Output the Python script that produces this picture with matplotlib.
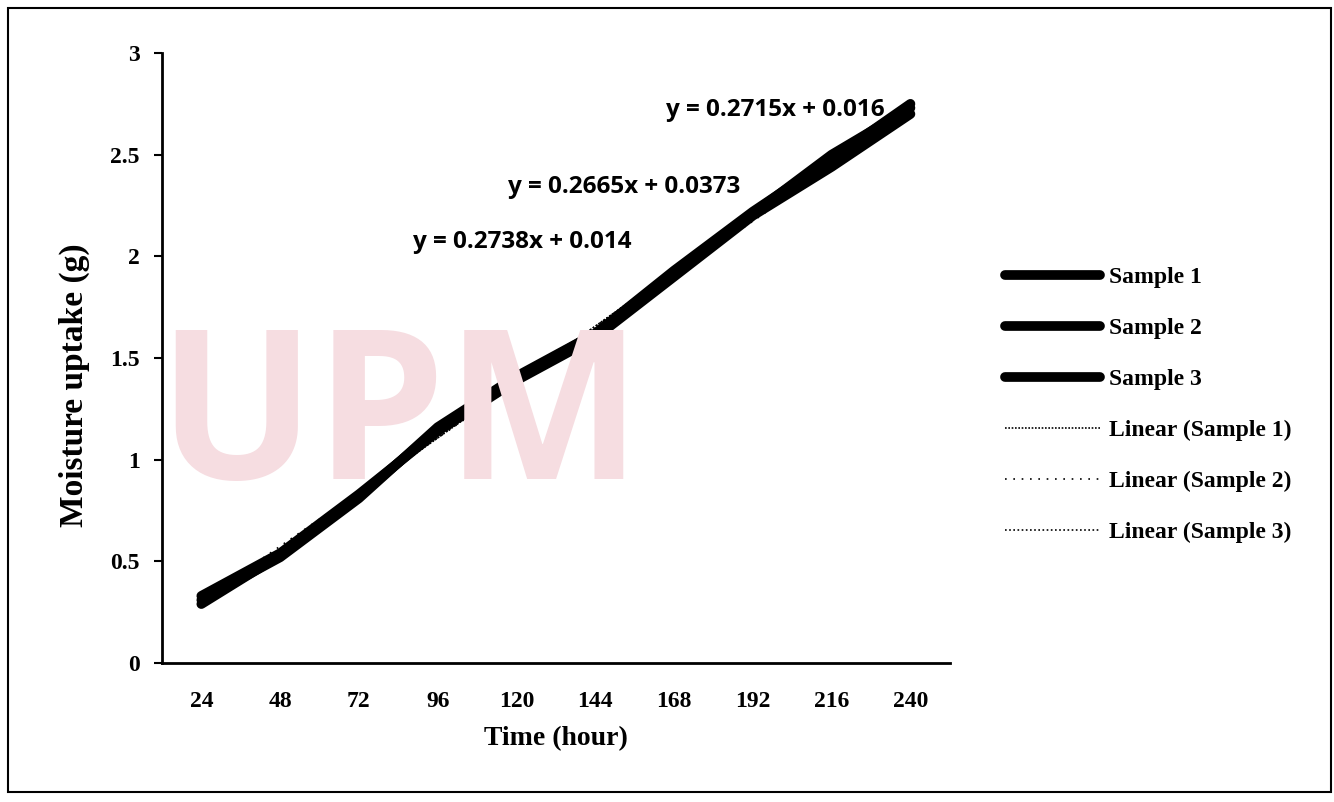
import numpy as np
import matplotlib
matplotlib.use("Agg")
import matplotlib.pyplot as plt
from matplotlib.patches import Rectangle

# data
hours = ["24", "48", "72", "96", "120", "144", "168", "192", "216", "240"]
sample1 = [0.29, 0.53, 0.82, 1.15, 1.40, 1.62, 1.93, 2.22, 2.48, 2.75]
sample2 = [0.33, 0.54, 0.83, 1.14, 1.39, 1.60, 1.90, 2.20, 2.44, 2.70]
sample3 = [0.31, 0.52, 0.81, 1.16, 1.41, 1.62, 1.92, 2.21, 2.50, 2.73]
equations = ["y = 0.2738x + 0.014", "y = 0.2665x + 0.0373", "y = 0.2715x + 0.016"]
eq_pos = [(5.07, 2.07), (6.37, 2.34), (8.28, 2.72)]

serif = "Liberation Serif"
sans = "Open Sans"

fig = plt.figure(figsize=(13.34, 8.02), dpi=100)
ax = fig.add_axes([0.1214, 0.1733, 0.5906, 0.7606])

# faint watermark behind the plot
fig.text(0.30, 0.47, "UPM", fontsize=150, fontweight="bold", color="#f6dde1",
         family=sans, ha="center", va="center", zorder=0)

x = np.arange(1, len(hours) + 1)
series = [sample1, sample2, sample3]
for i, s in enumerate(series):
    ax.plot(x, s, color="black", lw=7, solid_capstyle="round", label=f"Sample {i + 1}", zorder=3)

trend_styles = [(0, (1, 1)), (0, (1, 4)), (0, (1, 1.5))]
for i, s in enumerate(series):
    k, b = np.polyfit(x, s, 1)
    ax.plot(x, k * x + b, color="black", lw=1.2, ls=trend_styles[i],
            label=f"Linear (Sample {i + 1})", zorder=4)

for txt, (ex, ey) in zip(equations, eq_pos):
    ax.text(ex, ey, txt, fontsize=17.5, fontweight="bold", family=sans,
            ha="center", va="center", zorder=5)

ax.set_xlim(0.5, len(hours) + 0.5)
ax.set_ylim(0, 3)
ax.set_xticks(x)
ax.set_xticklabels(hours)
ax.set_yticks([0, 0.5, 1, 1.5, 2, 2.5, 3])
ax.set_yticklabels(["0", "0.5", "1", "1.5", "2", "2.5", "3"])
ax.tick_params(axis="x", length=0, pad=20)
ax.tick_params(axis="y", length=6, width=1.5, direction="out", pad=10)
for lab in ax.get_xticklabels() + ax.get_yticklabels():
    lab.set_fontfamily(serif)
    lab.set_fontweight("bold")
    lab.set_fontsize(17)

ax.spines["top"].set_visible(False)
ax.spines["right"].set_visible(False)
ax.spines["left"].set_linewidth(2)
ax.spines["bottom"].set_linewidth(2)
ax.patch.set_alpha(0)

ax.set_xlabel("Time (hour)", fontsize=20, fontweight="bold", family=serif, labelpad=10)
ax.set_ylabel("Moisture uptake (g)", fontsize=24, fontweight="bold", family=serif)
ax.yaxis.set_label_coords(-0.091, 0.455)

fig.legend(loc="upper left", bbox_to_anchor=(0.7375, 0.694), frameon=False,
           prop={"family": serif, "weight": "bold", "size": 17},
           handlelength=4.0, labelspacing=1.25, handletextpad=0.4)

# scan border
fig.patches.append(Rectangle((0.006, 0.013), 0.992, 0.977, transform=fig.transFigure,
                             fill=False, lw=1.5, color="black"))

fig.savefig("out.png", dpi=100)
